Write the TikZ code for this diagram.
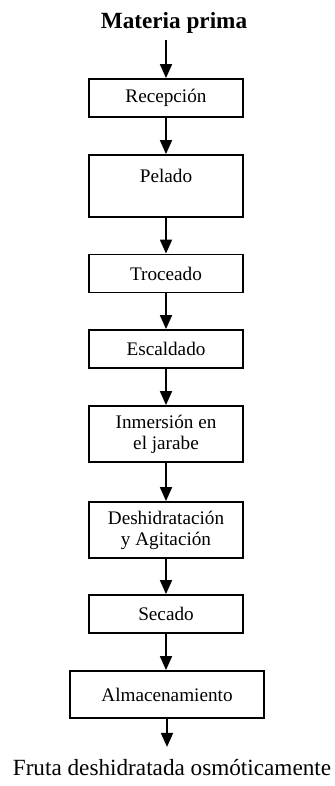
\documentclass[tikz,border=0pt]{standalone}
\usepackage{fontspec}
\setmainfont{Liberation Serif}
\usepackage{tikz}
\usetikzlibrary{arrows.meta, calc}
\tikzset{> = { Triangle[length = 7pt, width = 6pt] }}
\tikzstyle{every path} = [ line width = 0.9pt ]
\tikzset{
	stepbox/.style = { draw, rectangle, inner sep = 0pt, minimum width = 77pt, minimum height = 19pt, align = center, font = \fontsize{9.6}{10.5}\selectfont },
	endtext/.style = { inner sep = 0pt, font = \fontsize{11.6}{14}\selectfont }
}

\begin{document}
\begin{tikzpicture}[x = 0.5pt, y = -0.5pt]
					\useasboundingbox (0, 0) rectangle (335, 786);

					\node [endtext, font = \fontsize{11.6}{14}\selectfont\bfseries] (mat) at (174, 23) {Materia prima};
					\node [stepbox] (rec) at (166, 98) {Recepción};
					\node [stepbox, minimum height = 31pt, text height = 7pt, text depth = 10pt] (pel) at (166, 186) {Pelado};
					\node [stepbox] (tro) at (166, 273.5) {Troceado};
					\node [stepbox] (esc) at (166, 349) {Escaldado};
					\node [stepbox, minimum height = 28pt] (inm) at (166, 434) {Inmersión en\\el jarabe};
					\node [stepbox, minimum height = 28pt] (des) at (166, 530) {Deshidratación\\y Agitación};
					\node [stepbox] (sec) at (166, 614) {Secado};
					\node [stepbox, minimum width = 97pt, minimum height = 23.5pt] (alm) at (167, 694.5) {Almacenamiento};
					\node [endtext] (fru) at (172, 768) {Fruta deshidratada osmóticamente};

					% Flow.
					\draw [->, shorten < = 3pt] (mat.south -| rec.north) to (rec.north);
					\draw [->] (rec) to (pel);
					\draw [->] (pel) to (tro);
					\draw [->] (tro) to (esc);
					\draw [->] (esc) to (inm);
					\draw [->] (inm) to (des);
					\draw [->] (des) to (sec);
					\draw [->] (sec.south) to (sec.south |- alm.north);
					\draw [->, shorten > = 6pt] (alm.south) to (alm.south |- fru.north);
				\end{tikzpicture}
\end{document}
